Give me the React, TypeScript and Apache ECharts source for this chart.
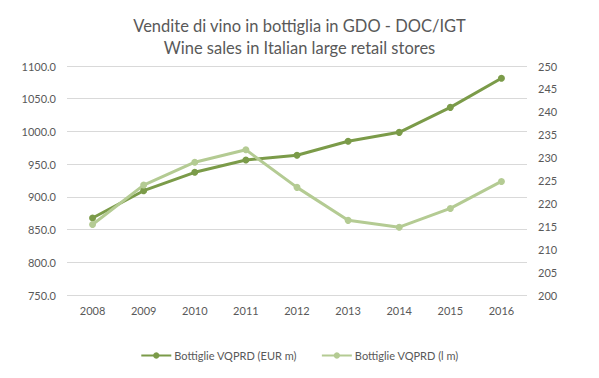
import React, { useEffect, useRef } from "react";
import * as echarts from "echarts";

const years = ["2008", "2009", "2010", "2011", "2012", "2013", "2014", "2015", "2016"];
const eurMillions = [867.7, 909.4, 937.5, 956.3, 963.5, 984.9, 998.6, 1036.8, 1081.2];
const litreMillions = [215.4, 224.0, 229.0, 231.7, 223.5, 216.3, 214.8, 218.9, 224.8];
const seriesNames = ["Bottiglie VQPRD (EUR m)", "Bottiglie VQPRD (l m)"];
const titleLines = ["Vendite di vino in bottiglia in GDO - DOC/IGT", "Wine sales in Italian large retail stores"];

const FONT = "Lato, 'Open Sans', sans-serif";
const DARK = "#7b9b49";
const LIGHT = "#b4cb93";
const TEXT = "#595959";

export default function App() {
  const ref = useRef<HTMLDivElement>(null);
  useEffect(() => {
    if (!ref.current) return;
    const chart = echarts.init(ref.current, undefined, { renderer: "svg" });
    chart.setOption({
      animation: false,
      backgroundColor: "#ffffff",
      title: {
        text: titleLines.join("\n"),
        left: "center",
        top: 10,
        textStyle: { fontFamily: FONT, fontSize: 16.5, fontWeight: "normal", color: TEXT, lineHeight: 22 },
      },
      legend: {
        bottom: 12,
        left: "center",
        itemGap: 24,
        itemWidth: 30,
        itemHeight: 8,
        textStyle: { fontFamily: FONT, fontSize: 11, color: TEXT, padding: [0, 0, 0, -2] },
        data: seriesNames,
      },
      grid: { left: 67, right: 72, top: 66, bottom: 83, containLabel: false },
      xAxis: {
        type: "category",
        data: years,
        boundaryGap: true,
        axisLine: { show: false },
        axisTick: { show: false },
        axisLabel: { fontFamily: FONT, fontSize: 11, color: TEXT, margin: 10 },
      },
      yAxis: [
        {
          type: "value",
          min: 750,
          max: 1100,
          interval: 50,
          axisLine: { show: false },
          axisTick: { show: false },
          axisLabel: { fontFamily: FONT, fontSize: 11, color: TEXT, margin: 11, formatter: (v: number) => v.toFixed(1) },
          splitLine: { lineStyle: { color: "#d9d9d9", width: 1 } },
        },
        {
          type: "value",
          min: 200,
          max: 250,
          interval: 5,
          axisLine: { show: false },
          axisTick: { show: false },
          axisLabel: { fontFamily: FONT, fontSize: 11, color: TEXT, margin: 11 },
          splitLine: { show: false },
        },
      ],
      series: [
        {
          name: seriesNames[0],
          type: "line",
          yAxisIndex: 0,
          data: eurMillions,
          symbol: "circle",
          symbolSize: 7,
          lineStyle: { color: DARK, width: 3 },
          itemStyle: { color: DARK },
        },
        {
          name: seriesNames[1],
          type: "line",
          yAxisIndex: 1,
          data: litreMillions,
          symbol: "circle",
          symbolSize: 7,
          lineStyle: { color: LIGHT, width: 3 },
          itemStyle: { color: LIGHT },
        },
      ],
    });
    return () => chart.dispose();
  }, []);
  return <div ref={ref} style={{ width: 599, height: 378, position: "absolute", left: 0, top: 0 }} />;
}
